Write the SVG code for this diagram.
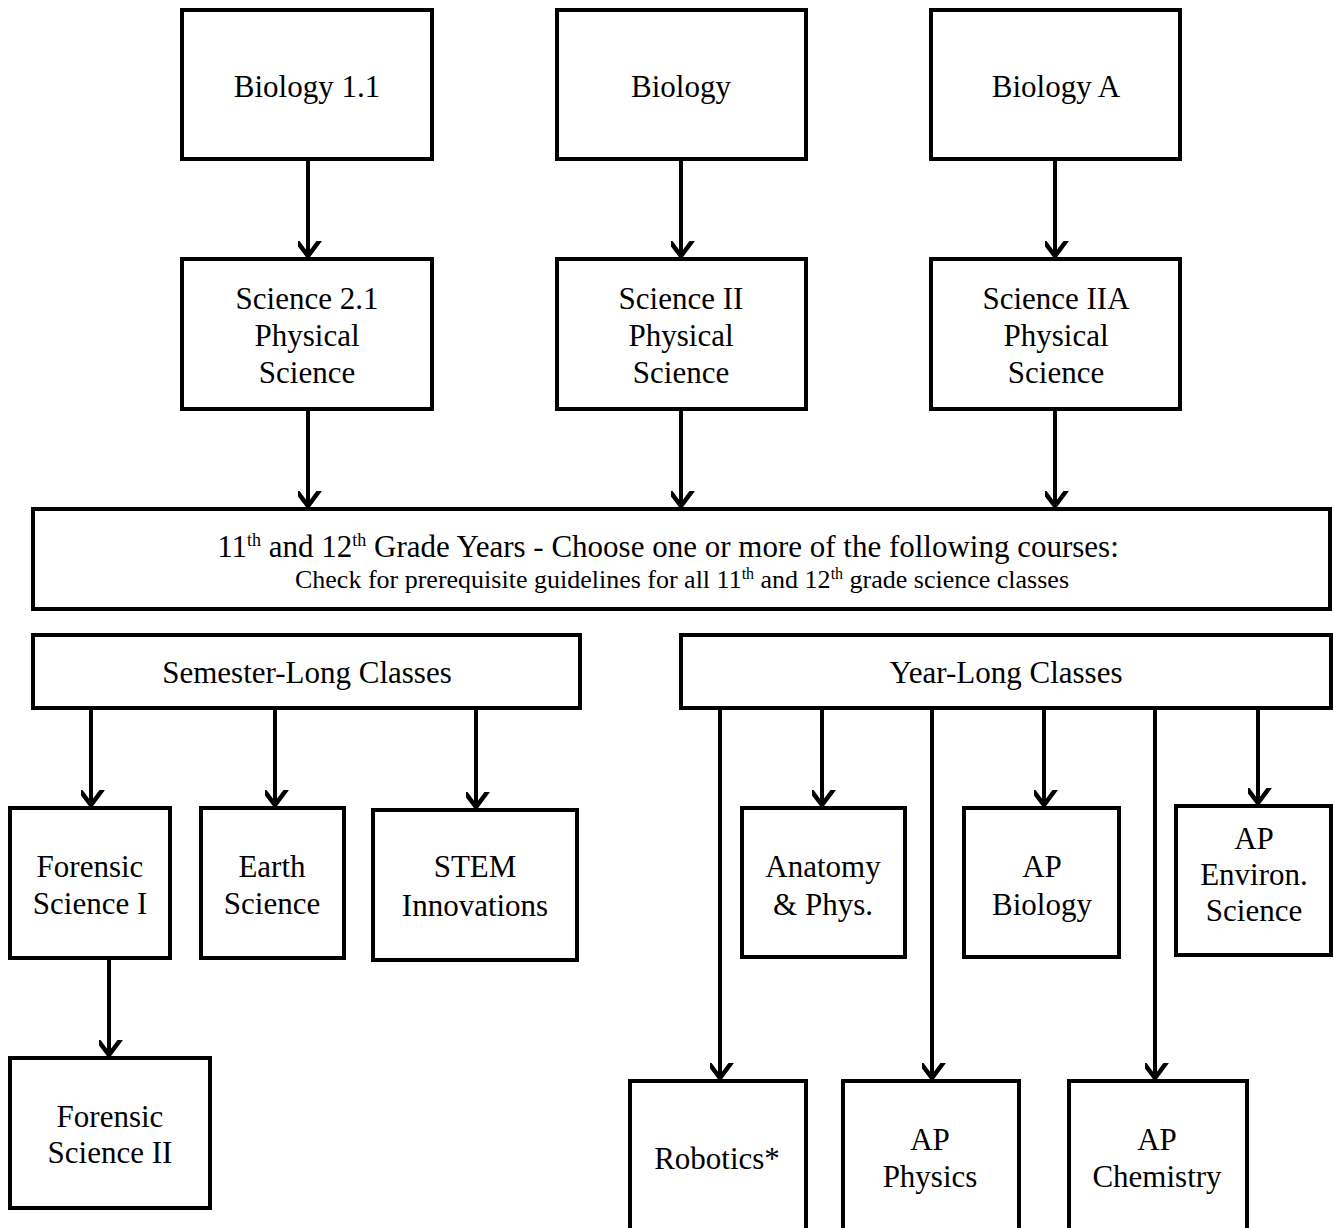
<svg xmlns="http://www.w3.org/2000/svg" width="1334" height="1228" viewBox="0 0 1334 1228">
<style>
.b{fill:#fff;stroke:#000;stroke-width:4}
.t{font-family:"Liberation Serif","Times New Roman",serif;font-size:31px;fill:#000;text-anchor:middle}
.s{font-family:"Liberation Serif","Times New Roman",serif;font-size:26px;fill:#000;text-anchor:middle}
.c{stroke:#000;stroke-width:4;fill:none}
</style>
<defs>
<marker id="ah" markerUnits="userSpaceOnUse" markerWidth="30" markerHeight="30" viewBox="-15 -20 30 30" refX="0" refY="0" orient="auto-start-reverse">
<path d="M-16,-12 L0,0 L-16,12" fill="none" stroke="#000" stroke-width="4.5"/>
</marker>
</defs>
<rect width="1334" height="1228" fill="#fff"/>
<g id="connectors" class="c">
<path d="M308,159 V256" marker-end="url(#ah)"/>
<path d="M681,159 V256" marker-end="url(#ah)"/>
<path d="M1055,159 V256" marker-end="url(#ah)"/>
<path d="M308,409 V506" marker-end="url(#ah)"/>
<path d="M681,409 V506" marker-end="url(#ah)"/>
<path d="M1055,409 V506" marker-end="url(#ah)"/>
<path d="M91,708 V805" marker-end="url(#ah)"/>
<path d="M275,708 V805" marker-end="url(#ah)"/>
<path d="M476,708 V807" marker-end="url(#ah)"/>
<path d="M109,958 V1055" marker-end="url(#ah)"/>
<path d="M720,706 V1078" marker-end="url(#ah)"/>
<path d="M822,708 V805" marker-end="url(#ah)"/>
<path d="M932,708 V1078" marker-end="url(#ah)"/>
<path d="M1044,708 V805" marker-end="url(#ah)"/>
<path d="M1155,708 V1078" marker-end="url(#ah)"/>
<path d="M1258,708 V803" marker-end="url(#ah)"/>
</g>
<g id="bio11"><rect class="b" x="182" y="10" width="250" height="149"/><text class="t" x="307" y="97">Biology 1.1</text></g>
<g id="bio"><rect class="b" x="557" y="10" width="249" height="149"/><text class="t" x="681" y="97">Biology</text></g>
<g id="bioA"><rect class="b" x="931" y="10" width="249" height="149"/><text class="t" x="1056" y="97">Biology A</text></g>
<g id="sci21"><rect class="b" x="182" y="259" width="250" height="150"/><text class="t" x="307"><tspan x="307" y="309">Science 2.1</tspan><tspan x="307" y="346">Physical</tspan><tspan x="307" y="383">Science</tspan></text></g>
<g id="sciII"><rect class="b" x="557" y="259" width="249" height="150"/><text class="t" x="681"><tspan x="681" y="309">Science II</tspan><tspan x="681" y="346">Physical</tspan><tspan x="681" y="383">Science</tspan></text></g>
<g id="sciIIA"><rect class="b" x="931" y="259" width="249" height="150"/><text class="t" x="1056"><tspan x="1056" y="309">Science IIA</tspan><tspan x="1056" y="346">Physical</tspan><tspan x="1056" y="383">Science</tspan></text></g>
<g id="grades"><rect class="b" x="33" y="509" width="1297" height="100"/>
<text class="t" x="668" y="557">11<tspan font-size="18" dy="-11">th</tspan><tspan dy="11"> and 12</tspan><tspan font-size="18" dy="-11">th</tspan><tspan dy="11"> Grade Years - Choose one or more of the following courses:</tspan></text>
<text class="s" x="682" y="588">Check for prerequisite guidelines for all 11<tspan font-size="16" dy="-9">th</tspan><tspan dy="9"> and 12</tspan><tspan font-size="16" dy="-9">th</tspan><tspan dy="9"> grade science classes</tspan></text>
</g>
<g id="semester"><rect class="b" x="33" y="635" width="547" height="73"/><text class="t" x="307" y="683">Semester-Long Classes</text></g>
<g id="year"><rect class="b" x="681" y="635" width="650" height="73"/><text class="t" x="1006" y="683">Year-Long Classes</text></g>
<g id="forensic1"><rect class="b" x="10" y="808" width="160" height="150"/><text class="t"><tspan x="90" y="877">Forensic</tspan><tspan x="90" y="914">Science I</tspan></text></g>
<g id="earth"><rect class="b" x="201" y="808" width="143" height="150"/><text class="t"><tspan x="272" y="877">Earth</tspan><tspan x="272" y="914">Science</tspan></text></g>
<g id="stem"><rect class="b" x="373" y="810" width="204" height="150"/><text class="t"><tspan x="475" y="877">STEM</tspan><tspan x="475" y="916">Innovations</tspan></text></g>
<g id="forensic2"><rect class="b" x="10" y="1058" width="200" height="150"/><text class="t"><tspan x="110" y="1127">Forensic</tspan><tspan x="110" y="1163">Science II</tspan></text></g>
<g id="anatomy"><rect class="b" x="742" y="808" width="163" height="149"/><text class="t"><tspan x="823" y="877">Anatomy</tspan><tspan x="823" y="915">&amp; Phys.</tspan></text></g>
<g id="apbio"><rect class="b" x="964" y="808" width="155" height="149"/><text class="t"><tspan x="1042" y="877">AP</tspan><tspan x="1042" y="915">Biology</tspan></text></g>
<g id="apenv"><rect class="b" x="1176" y="806" width="155" height="149"/><text class="t"><tspan x="1254" y="849">AP</tspan><tspan x="1254" y="885">Environ.</tspan><tspan x="1254" y="921">Science</tspan></text></g>
<g id="robotics"><rect class="b" x="630" y="1081" width="176" height="160"/><text class="t" x="717" y="1169">Robotics*</text></g>
<g id="apphys"><rect class="b" x="843" y="1081" width="176" height="160"/><text class="t"><tspan x="930" y="1150">AP</tspan><tspan x="930" y="1187">Physics</tspan></text></g>
<g id="apchem"><rect class="b" x="1069" y="1081" width="178" height="160"/><text class="t"><tspan x="1157" y="1150">AP</tspan><tspan x="1157" y="1187">Chemistry</tspan></text></g>
</svg>
